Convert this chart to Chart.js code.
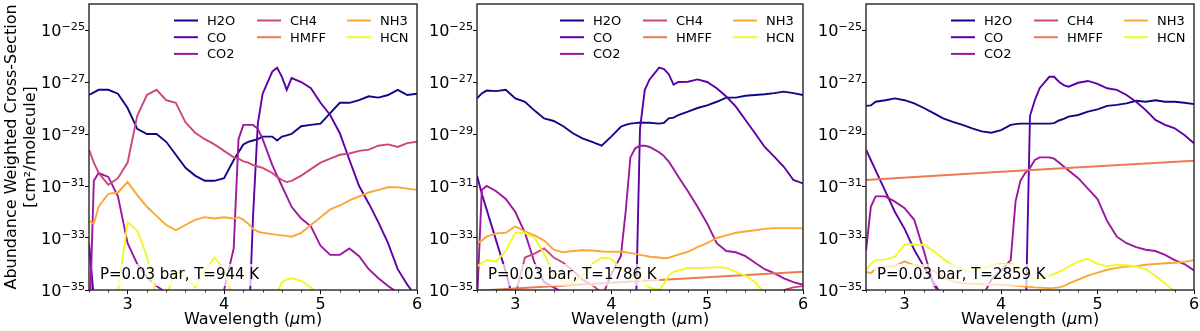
<!DOCTYPE html>
<html lang="en">
<head>
    <meta charset="UTF-8">
    <title>Abundance Weighted Cross-Sections</title>
    <script src="https://cdn.jsdelivr.net/npm/chart.js"></script>
    <style>
        body { margin: 0; background: #fff; }
        .wrap { position: relative; width: 1200px; height: 331px; }
        .wrap canvas { position: absolute; left: 0; top: 0; }
    </style>
</head>
<body>
    <div class="wrap">
        <canvas id="panel-1" width="1200" height="331"></canvas>
        <canvas id="panel-2" width="1200" height="331"></canvas>
        <canvas id="panel-3" width="1200" height="331"></canvas>
    </div>

    <script>
        // wavelength grid (um), shared by all species
        const wl = [2.6, 2.65, 2.7, 2.8, 2.9, 3.0, 3.1, 3.2, 3.3, 3.4, 3.5, 3.6, 3.7, 3.8, 3.9, 4.0,
                    4.1, 4.15, 4.2, 4.25, 4.3, 4.35, 4.4, 4.5, 4.55, 4.6, 4.65, 4.7, 4.8, 4.9, 5.0,
                    5.1, 5.2, 5.3, 5.4, 5.5, 5.6, 5.7, 5.8, 5.9, 6.0];
        // HMFF is a straight line, a few points are enough
        const hmffWl = [2.6, 4.0, 6.0];

        // log10 of cross-section [cm2/molecule], null = far below the axis
        // T = 944 K
        const h2o944 = [-27.5, -27.4, -27.3, -27.3, -27.45, -28.0, -28.8, -29.0, -29.0, -29.3, -29.8, -30.3, -30.6, -30.8, -30.8, -30.7,
                        -30.0, -29.7, -29.4, -29.3, -29.25, -29.2, -29.1, -29.1, -29.25, -29.1, -29.05, -29.0, -28.7, -28.65, -28.6,
                        -28.2, -27.8, -27.8, -27.7, -27.55, -27.6, -27.5, -27.3, -27.5, -27.45];
        const co944 = [-33.2, -35.3, null, null, null, null, null, null, null, null, null, null, null, null, null, null,
                       null, null, null, -37, -32.2, -28.6, -27.45, -26.6, -26.45, -26.8, -27.3, -26.85, -27.0, -27.24, -27.8,
                       -28.27, -28.97, -30.0, -31.0, -31.67, -32.4, -33.2, -34.2, -34.8, -35.3];
        const co2_944 = [-37, -30.8, -30.5, -30.65, -31.4, -33.2, -34.0, -34.5, -34.85, -35.1, -35.4, null, null, null, -37, -35.0,
                         -33.4, -29.2, -28.65, -28.65, -28.65, -28.8, -29.2, -30.2, -30.6, -31.0, -31.4, -31.8, -32.25, -32.55, -33.3,
                         -33.65, -33.65, -33.4, -33.7, -34.2, -34.55, -34.85, -35.1, -35.4, -35.6];
        const ch4_944 = [-29.6, -30.1, -30.5, -30.95, -30.7, -30.1, -28.3, -27.5, -27.3, -27.7, -27.8, -28.55, -28.95, -29.2, -29.4, -29.65,
                         -29.9, -29.95, -30.05, -30.1, -30.2, -30.25, -30.3, -30.5, -30.65, -30.77, -30.85, -30.8, -30.6, -30.35, -30.1,
                         -29.95, -29.8, -29.75, -29.65, -29.6, -29.45, -29.4, -29.5, -29.35, -29.3];
        const hmff944 = [];
        const nh3_944 = [-32.35, -32.45, -31.8, -31.3, -31.25, -30.85, -31.35, -31.8, -32.15, -32.5, -32.7, -32.5, -32.3, -32.2, -32.25, -32.2,
                         -32.25, -32.2, -32.3, -32.45, -32.65, -32.75, -32.8, -32.85, -32.88, -32.9, -32.92, -32.95, -32.8, -32.5, -32.2,
                         -31.9, -31.75, -31.55, -31.4, -31.25, -31.15, -31.05, -31.05, -31.1, -31.15];
        const hcn944 = [-35.0, -35.2, -35.3, -35.1, -35.05, -32.4, -32.7, -33.7, -35.3, -35.2, -34.3, -34.5, -34.9, -34.3, -33.75, -34.2,
                        -35.4, -36.5, null, null, null, null, -37, -35.6, -35.1, -34.7, -34.6, -34.55, -34.65, -34.9, -35.2,
                        -36.5, null, null, null, null, null, null, null, null, null];

        // T = 1786 K
        const h2o1786 = [-27.63, -27.44, -27.33, -27.35, -27.3, -27.63, -27.76, -28.1, -28.4, -28.5, -28.7, -28.97, -29.17, -29.3, -29.45, -29.1,
                         -28.72, -28.65, -28.6, -28.58, -28.56, -28.57, -28.57, -28.6, -28.57, -28.4, -28.37, -28.27, -28.14, -28.0, -27.9,
                         -27.76, -27.6, -27.6, -27.53, -27.5, -27.47, -27.43, -27.37, -27.43, -27.5];
        const co1786 = [-30.6, -31.3, -31.9, -33.1, -34.3, -35.7, null, null, null, null, null, null, null, null, null, null,
                        null, null, null, -37, -28.8, -27.3, -26.9, -26.45, -26.5, -26.7, -27.1, -27.0, -26.99, -26.9, -27.0,
                        -27.24, -27.56, -27.95, -28.46, -28.97, -29.5, -29.87, -30.26, -30.77, -30.9];
        const co2_1786 = [-35.5, -31.15, -31.0, -31.2, -31.5, -32.0, -32.8, -33.95, -34.7, -34.9, -35.1, -35.6, null, null, -35.3, -34.4,
                          -33.7, -32.0, -29.9, -29.55, -29.45, -29.45, -29.5, -29.7, -29.85, -30.06, -30.35, -30.64, -31.2, -31.8, -32.44,
                          -33.2, -33.5, -33.55, -33.7, -33.95, -34.2, -34.35, -34.55, -34.7, -34.8];
        const ch4_1786 = [null, null, null, null, -37, -35.2, -33.75, -33.6, -33.4, -33.75, -33.95, -34.25, -34.6, -34.8, -35.1, -35.6,
                          null, null, null, null, null, null, null, null, null, null, null, null, null, null, null,
                          null, null, null, null, null, null, -35.6, -35.0, -34.9, -34.85];
        const hmff1786 = [-35.03, -34.72, -34.3];
        const nh3_1786 = [-33.2, -33.1, -32.95, -32.82, -32.8, -32.55, -32.75, -32.9, -33.1, -33.45, -33.55, -33.5, -33.47, -33.48, -33.52, -33.53,
                          -33.53, -33.55, -33.58, -33.6, -33.65, -33.68, -33.72, -33.75, -33.78, -33.76, -33.7, -33.64, -33.53, -33.35, -33.2,
                          -33.0, -32.9, -32.8, -32.75, -32.7, -32.65, -32.62, -32.62, -32.62, -32.63];
        const hcn1786 = [-34.1, -33.95, -33.85, -33.9, -33.5, -32.8, -32.8, -33.0, -33.6, -34.4, -34.7, -34.75, -34.45, -34.0, -33.75, -33.8,
                         -34.15, -34.3, -34.4, -34.5, -34.6, -34.8, -34.9, -35.0, -34.75, -34.45, -34.3, -34.25, -34.15, -34.15, -34.15,
                         -34.12, -34.15, -34.3, -34.45, -34.7, -35.1, -35.6, null, null, null];

        // T = 2859 K
        const h2o2859 = [-27.92, -27.9, -27.76, -27.7, -27.63, -27.7, -27.82, -28.0, -28.2, -28.4, -28.53, -28.65, -28.78, -28.9, -28.95, -28.85,
                         -28.65, -28.62, -28.6, -28.6, -28.6, -28.6, -28.6, -28.6, -28.58, -28.48, -28.42, -28.33, -28.27, -28.14, -28.05,
                         -27.92, -27.88, -27.82, -27.72, -27.76, -27.7, -27.76, -27.76, -27.8, -27.85];
        const co2859 = [-29.6, -30.0, -30.4, -31.2, -32.0, -32.65, -33.45, -34.1, -34.7, -35.3, null, null, null, null, null, null,
                        null, null, null, -37, -28.3, -27.7, -27.24, -26.8, -26.8, -26.99, -27.12, -27.18, -27.03, -26.96, -27.07,
                        -27.24, -27.3, -27.5, -27.76, -28.08, -28.46, -28.65, -28.78, -29.04, -29.36];
        const co2_2859 = [-33.5, -31.8, -31.4, -31.4, -31.6, -31.85, -32.3, -33.5, -34.8, -35.3, null, null, null, -35.3, -34.6, -34.25,
                          -33.85, -31.6, -30.8, -30.5, -30.3, -30.0, -29.9, -29.9, -29.95, -30.1, -30.25, -30.4, -30.7, -31.1, -31.5,
                          -32.35, -32.95, -33.2, -33.35, -33.45, -33.5, -33.65, -33.85, -34.0, -34.25];
        const ch4_2859 = [];
        const hmff2859 = [-30.77, -30.45, -30.03];
        const nh3_2859 = [-34.3, -34.35, -34.2, -34.1, -34.08, -33.9, -34.05, -34.1, -34.25, -34.5, -34.68, -34.74, -34.76, -34.78, -34.8, -34.8,
                          -34.82, -34.83, -34.85, -34.87, -34.88, -34.9, -34.91, -34.93, -34.92, -34.9, -34.85, -34.75, -34.6, -34.45, -34.33,
                          -34.22, -34.15, -34.1, -34.08, -34.03, -34.0, -33.97, -33.95, -33.92, -33.85];
        const hcn2859 = [-34.25, -34.0, -33.85, -33.83, -33.72, -33.25, -33.25, -33.27, -33.5, -33.8, -34.05, -34.2, -34.3, -34.2, -34.05, -34.0,
                         -34.0, -34.05, -34.2, -34.35, -34.5, -34.55, -34.55, -34.45, -34.38, -34.3, -34.22, -34.1, -33.9, -33.8, -34.0,
                         -34.08, -34.04, -34.05, -34.1, -34.2, -34.45, -34.75, -35.05, -35.5, null];

        const species = ['H2O', 'CO', 'CO2', 'CH4', 'HMFF', 'NH3', 'HCN'];
        const colors = ['#0d0887', '#5c01a6', '#9c179e', '#cc4778', '#ed7953', '#fca636', '#f0f921'];
        const temps = [944, 1786, 2859];
        const pressure = 0.03;
        const panelSeries = [
            [h2o944, co944, co2_944, ch4_944, hmff944, nh3_944, hcn944],
            [h2o1786, co1786, co2_1786, ch4_1786, hmff1786, nh3_1786, hcn1786],
            [h2o2859, co2859, co2_2859, ch4_2859, hmff2859, nh3_2859, hcn2859]
        ];
        const yTicks = [-35, -33, -31, -29, -27, -25];
        const xTicks = [2.6, 2.8, 3.0, 3.2, 3.4, 3.6, 3.8, 4.0, 4.2, 4.4, 4.6, 4.8, 5.0, 5.2, 5.4, 5.6, 5.8, 6.0];
        const xLabels = [3, 4, 5, 6];

        // where each plot box sits on the 1200px row
        const boxes = [
            { padLeft: 0, yWidth: 89, padRight: 783 },
            { padLeft: 420, yWidth: 57, padRight: 397 },
            { padLeft: 809, yWidth: 57, padRight: 6 }
        ];
        // matplotlib legend with ncol=3 fills columns 3 / 2 / 2
        const legendCol = [0, 0, 0, 1, 1, 2, 2];
        const legendRow = [0, 1, 2, 0, 1, 0, 1];

        Chart.defaults.font.family = '"DejaVu Sans", sans-serif';
        Chart.defaults.font.size = 16;
        Chart.defaults.color = '#000';

        function isMajor(v) {
            return xLabels.some(m => Math.abs(m - v) < 1e-6);
        }

        // legend, P/T label, power-of-ten labels, minor ticks, x title and frame
        const decorations = {
            id: 'decorations',
            afterDatasetsDraw(chart, args, opts) {
                const { ctx, chartArea: a } = chart;
                const xs = chart.scales.x, ys = chart.scales.y;
                ctx.save();

                ctx.strokeStyle = '#000';
                ctx.lineWidth = 0.8;
                xTicks.filter(v => !isMajor(v)).forEach(v => {
                    const px = Math.round(xs.getPixelForValue(v)) + 0.5;
                    ctx.beginPath();
                    ctx.moveTo(px, a.bottom);
                    ctx.lineTo(px, a.bottom + 2.5);
                    ctx.stroke();
                });

                // 10^n labels with a real superscript
                ctx.fillStyle = '#000';
                ctx.textBaseline = 'alphabetic';
                ctx.textAlign = 'left';
                yTicks.forEach(v => {
                    const py = ys.getPixelForValue(v);
                    const exp = '\u2212' + Math.abs(v);
                    ctx.font = '11.2px "DejaVu Sans"';
                    const we = ctx.measureText(exp).width;
                    ctx.font = '16px "DejaVu Sans"';
                    const wb = ctx.measureText('10').width;
                    const right = a.left - 4;
                    ctx.fillText('10', right - we - wb, py + 6);
                    ctx.font = '11.2px "DejaVu Sans"';
                    ctx.fillText(exp, right - we, py - 0.5);
                });

                // x title with italic mu
                const t1 = 'Wavelength (', t2 = '\u03BC', t3 = 'm)';
                ctx.textBaseline = 'middle';
                ctx.font = '16px "DejaVu Sans"';
                const w1 = ctx.measureText(t1).width, w3 = ctx.measureText(t3).width;
                ctx.font = 'italic 16px "DejaVu Sans"';
                const w2 = ctx.measureText(t2).width;
                let cx = (a.left + a.right) / 2 - (w1 + w2 + w3) / 2;
                ctx.font = '16px "DejaVu Sans"';
                ctx.fillText(t1, cx, 320);
                ctx.font = 'italic 16px "DejaVu Sans"';
                ctx.fillText(t2, cx + w1, 320);
                ctx.font = '16px "DejaVu Sans"';
                ctx.fillText(t3, cx + w1 + w2, 320);

                ctx.font = '15px "DejaVu Sans"';
                const label = 'P=' + pressure + ' bar, T=' + opts.temp + ' K';
                const w = ctx.measureText(label).width;
                const tx = a.left + 11, ty = a.bottom - 15;
                ctx.fillStyle = 'rgba(255,255,255,0.7)';
                ctx.fillRect(tx - 3, ty - 11, w + 6, 22);
                ctx.fillStyle = '#000';
                ctx.fillText(label, tx, ty);

                const colOffset = [243, 160, 70];
                ctx.font = '13px "DejaVu Sans"';
                chart.data.datasets.forEach((ds, i) => {
                    const lx = a.right - colOffset[legendCol[i]];
                    const ly = a.top + 16.5 + legendRow[i] * 16.7;
                    ctx.strokeStyle = ds.borderColor;
                    ctx.lineWidth = 2;
                    ctx.beginPath();
                    ctx.moveTo(lx, ly);
                    ctx.lineTo(lx + 24, ly);
                    ctx.stroke();
                    ctx.fillStyle = '#000';
                    ctx.fillText(ds.label, lx + 33, ly + 1);
                });

                ctx.strokeStyle = '#262626';
                ctx.lineWidth = 1.4;
                ctx.strokeRect(a.left, a.top, a.width, a.height);
                ctx.restore();
            }
        };

        function makePanel(p) {
            const datasets = species.map((name, i) => {
                const xs = name === 'HMFF' ? hmffWl : wl;
                const ys = panelSeries[p][i];
                return {
                    label: name,
                    data: ys.map((y, k) => ({ x: xs[k], y: y })),
                    borderColor: colors[i],
                    borderWidth: 1.9,
                    pointRadius: 0,
                    tension: 0,
                    fill: false,
                    clip: 0,
                    order: species.length - i
                };
            });

            new Chart(document.getElementById('panel-' + (p + 1)), {
                type: 'line',
                data: { datasets: datasets },
                plugins: [decorations],
                options: {
                    responsive: false,
                    animation: false,
                    layout: { padding: { left: boxes[p].padLeft, right: boxes[p].padRight, top: 4, bottom: 0 } },
                    plugins: {
                        legend: { display: false },
                        tooltip: { enabled: false },
                        decorations: { temp: temps[p] }
                    },
                    scales: {
                        x: {
                            type: 'linear',
                            min: 2.6,
                            max: 6,
                            afterBuildTicks: s => { s.ticks = xTicks.map(v => ({ value: v })); },
                            afterFit: s => { s.height = 41; s.paddingLeft = 0; s.paddingRight = 0; },
                            ticks: {
                                autoSkip: false,
                                maxRotation: 0,
                                padding: 1,
                                callback: v => isMajor(v) ? String(Math.round(v)) : ''
                            },
                            grid: {
                                drawOnChartArea: false,
                                drawTicks: true,
                                tickLength: 4,
                                tickColor: c => (c.tick && isMajor(c.tick.value)) ? '#000' : 'rgba(0,0,0,0)'
                            },
                            border: { display: false },
                            title: { display: false }
                        },
                        y: {
                            type: 'linear',
                            min: -35,
                            max: -24,
                            afterBuildTicks: s => { s.ticks = yTicks.map(v => ({ value: v })); },
                            afterFit: s => { s.width = boxes[p].yWidth; s.paddingTop = 0; s.paddingBottom = 0; },
                            ticks: { padding: 1, callback: () => '' },
                            grid: { drawOnChartArea: false, drawTicks: true, tickLength: 4, tickColor: '#000' },
                            border: { display: false },
                            title: {
                                display: p === 0,
                                text: ['Abundance Weighted Cross-Section', '[cm\u00B2/molecule]'],
                                padding: { top: 2, bottom: 0 }
                            }
                        }
                    }
                }
            });
        }

        temps.forEach((t, p) => makePanel(p));
    </script>
</body>
</html>
